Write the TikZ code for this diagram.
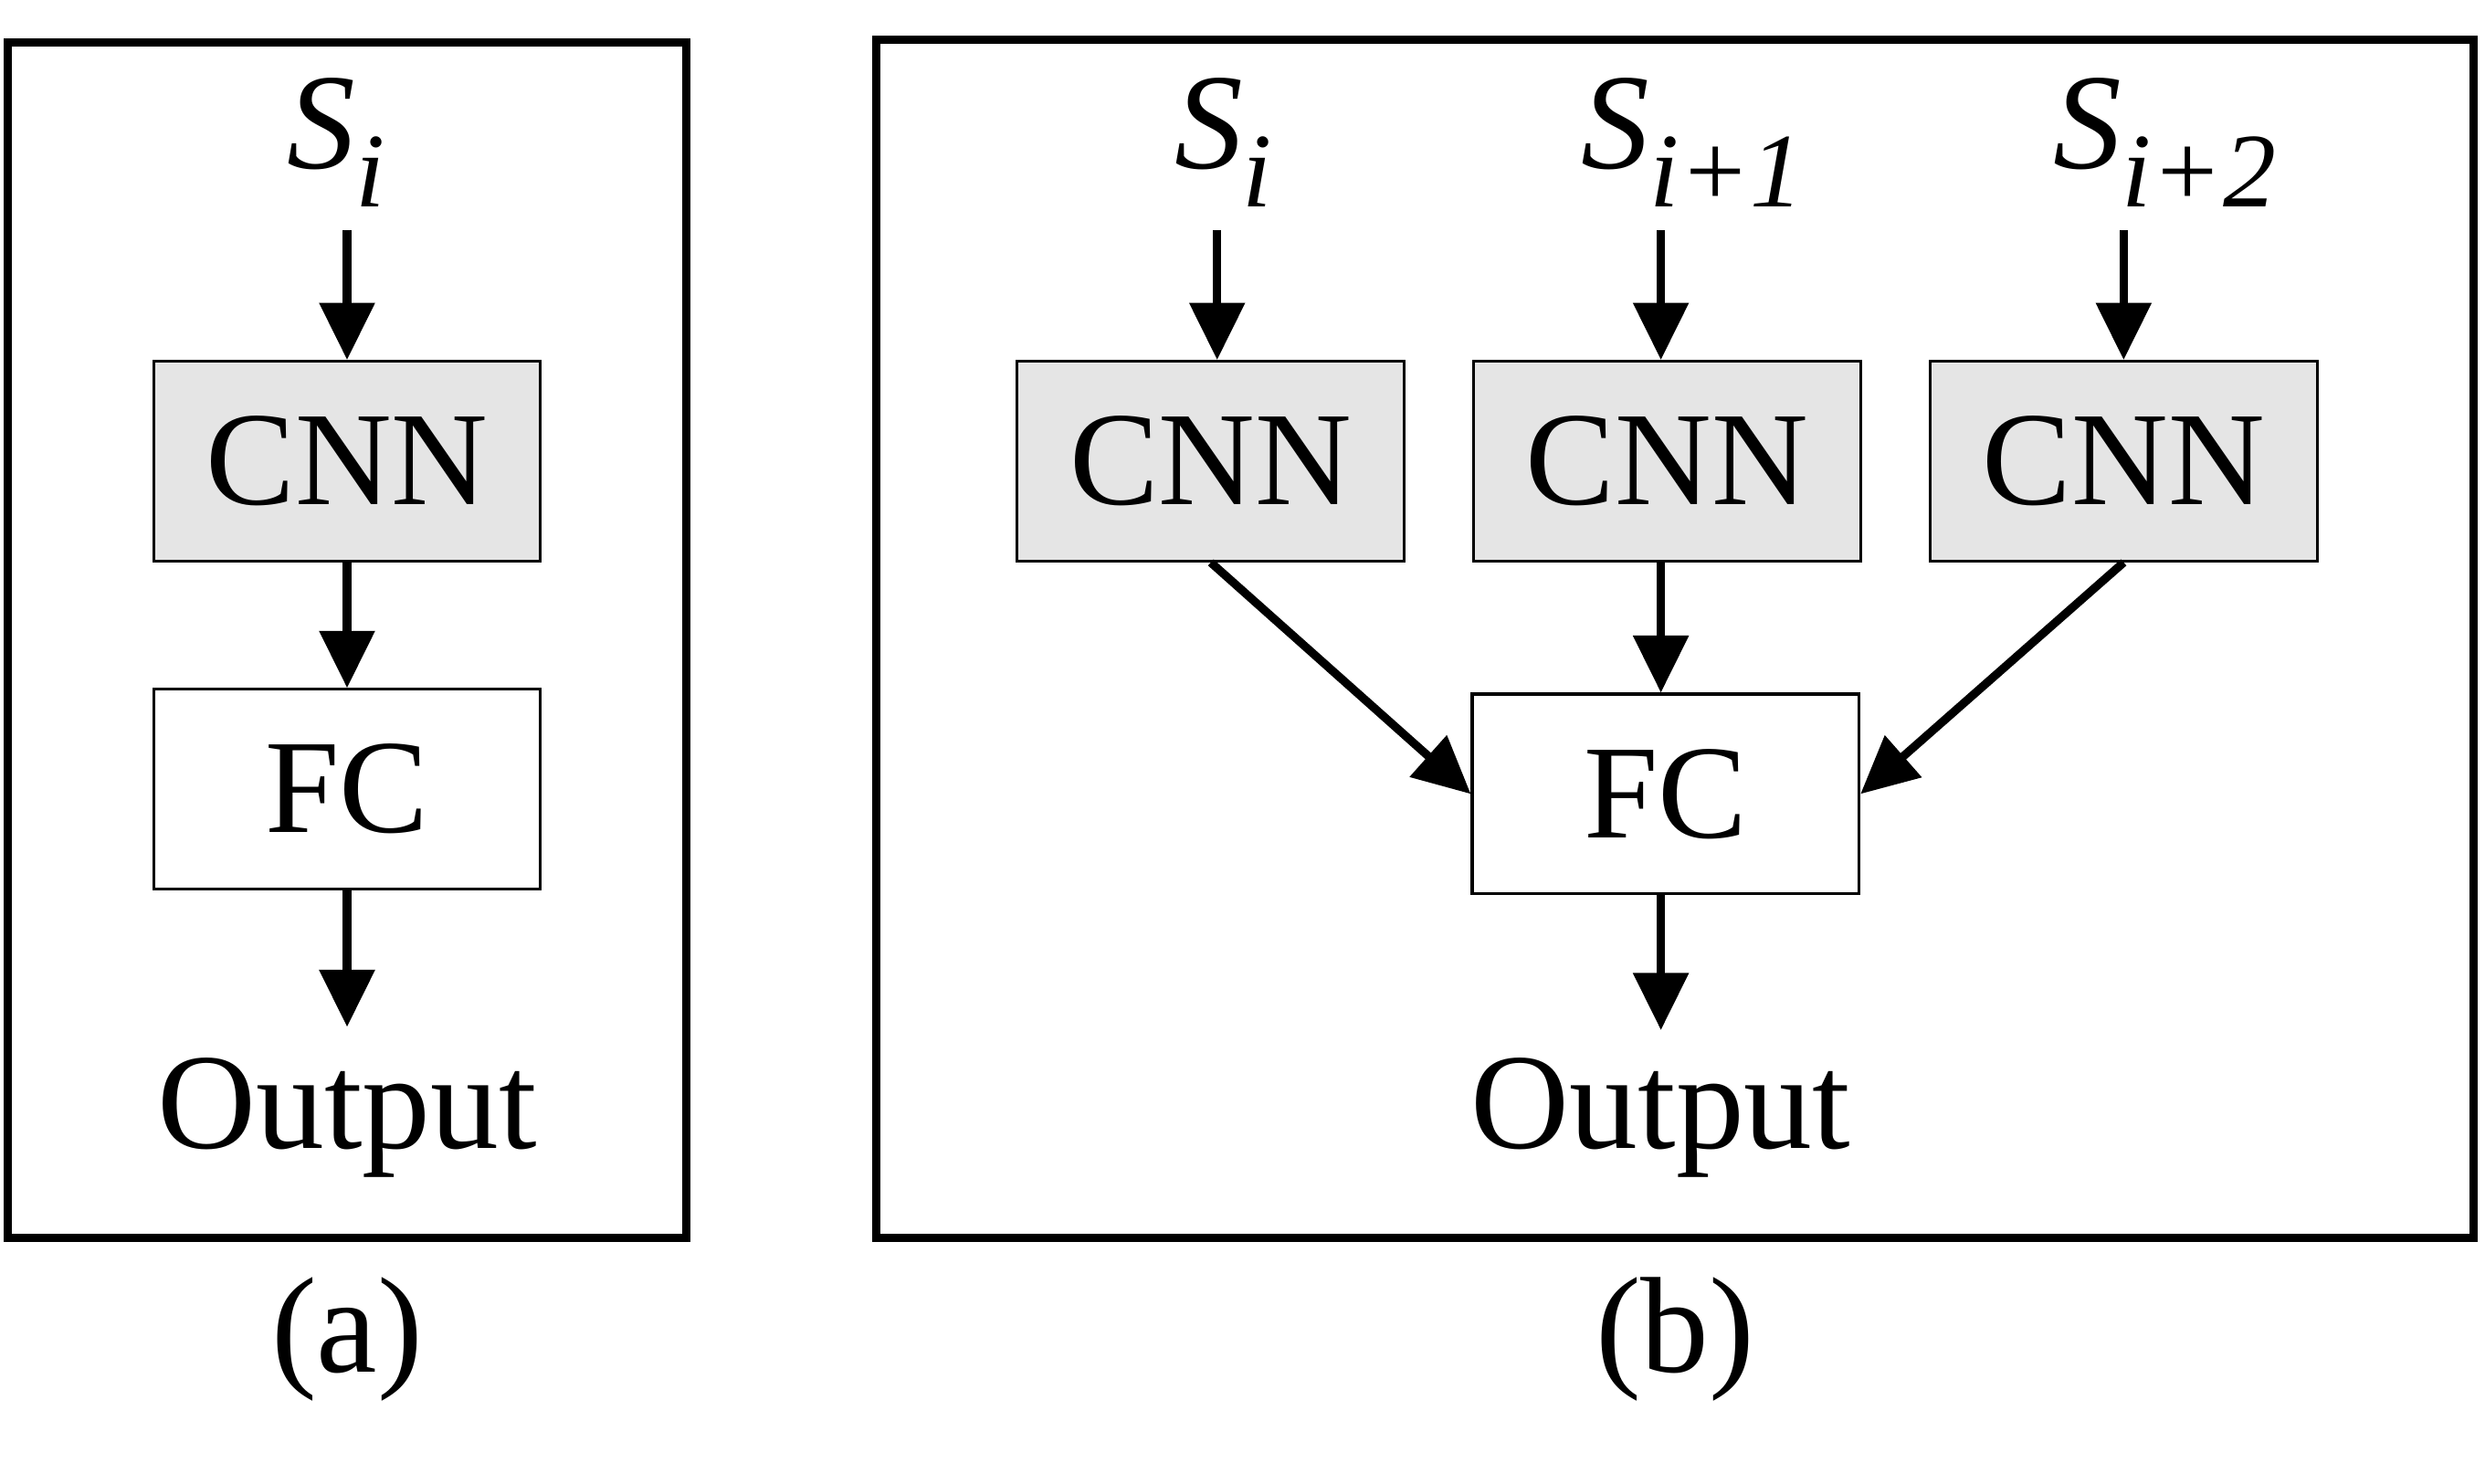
\documentclass[tikz,border=0pt]{standalone}
\usepackage{fontspec}
\setmainfont{Liberation Serif}
\usetikzlibrary{arrows.meta}
\newcommand{\mysub}[1]{\raisebox{-0.28em}{\fontsize{19}{22}\selectfont\textit{#1}}}
\begin{document}
\begin{tikzpicture}[x=0.01cm,y=-0.01cm,
  frame/.style={draw,line width=1.5pt},
  blk/.style={draw,line width=0.5pt,minimum width=2.44cm,minimum height=1.26cm,inner sep=0pt,font=\fontsize{24}{28}\selectfont},
  cnn/.style={blk,fill=black!10},
  lbl/.style={font=\fontsize{24.5}{28}\selectfont,inner sep=0pt},
  arr/.style={line width=1.5pt,-{Triangle[width=0.34cm,length=0.36cm]}}]
\useasboundingbox (0,0) rectangle (1568,936);
% (a)
\draw[frame] (5,27) rectangle (433,781);
\node[lbl] (sa) at (212,90) {\textit{S}\mysub{i}};
\coordinate (sat) at (219,145);
\node[cnn] (ca) at (219,291) {CNN};
\node[blk] (fa) at (219,498) {FC};
\node[lbl] (oa) at (219,705) {Output};
\coordinate (oat) at (219,648);
\draw[arr] (sat) -- (ca.north);
\draw[arr] (ca.south) -- (fa.north);
\draw[arr] (fa.south) -- (oat);
\node[lbl] (la) at (219,845) {(a)};
% (b)
\draw[frame] (553,25) rectangle (1561,781);
\node[lbl] (s1) at (772,90) {\textit{S}\mysub{i}};
\node[lbl] (s2) at (1068,90) {\textit{S}\mysub{i+1}};
\node[lbl] (s3) at (1366,90) {\textit{S}\mysub{i+2}};
\coordinate (t1) at (768,145);
\coordinate (t2) at (1048,145);
\coordinate (t3) at (1340,145);
\node[cnn] (c1) at (764,291) {CNN};
\node[cnn] (c2) at (1052,291) {CNN};
\node[cnn] (c3) at (1340,291) {CNN};
\node[blk] (fb) at (1051,501) {FC};
\coordinate (ob) at (1048,650);
\node[lbl] (o2) at (1048,705) {Output};
\draw[arr] (t1) -- (t1|-c1.north);
\draw[arr] (t2) -- (t2|-c2.north);
\draw[arr] (t3) -- (t3|-c3.north);
\draw[arr] (c1.south) -- (fb.west);
\draw[arr] (c2.south -| t2) -- (t2|-fb.north);
\draw[arr] (c3.south) -- (fb.east);
\draw[arr] (fb.south -| ob) -- (ob);
\node[lbl] (lb) at (1057,845) {(b)};
\end{tikzpicture}
\end{document}
